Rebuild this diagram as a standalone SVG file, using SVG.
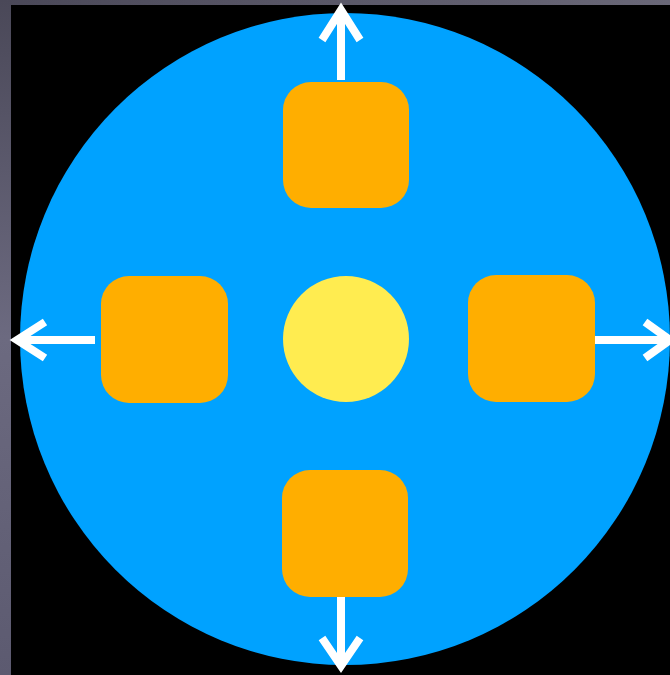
<svg xmlns="http://www.w3.org/2000/svg" width="670" height="675" viewBox="0 0 670 675">
<defs>
<linearGradient id="gl" x1="0" y1="0" x2="0" y2="1"><stop offset="0" stop-color="#4a4858"/><stop offset="0.5" stop-color="#6c6a80"/><stop offset="1" stop-color="#5c5a70"/></linearGradient>
<linearGradient id="gt" x1="0" y1="0" x2="1" y2="0"><stop offset="0" stop-color="#4a4858"/><stop offset="1" stop-color="#6a6878"/></linearGradient>
</defs>
<style>
.box{fill:#FFAE00}
.arr{fill:none;stroke:#FFFFFF;stroke-width:8;stroke-linejoin:miter;stroke-linecap:butt}
</style>
<rect x="0" y="0" width="670" height="675" fill="#000"/>
<rect x="0" y="0" width="670" height="5" fill="url(#gt)"/>
<rect x="0" y="0" width="11" height="675" fill="url(#gl)"/>
<g id="outer"><ellipse cx="345" cy="339" rx="325" ry="326" fill="#00A2FF"/></g>
<g id="connectors">
<path class="arr" d="M341 80V10M322 40L341 10L360 40"/>
<path class="arr" d="M341 597V666M322 638L341 666L360 638"/>
<path class="arr" d="M95 340H17M45 322L17 340L45 358"/>
<path class="arr" d="M595 340H670M645 322L670 340L645 358"/>
</g>
<g id="center"><circle cx="346" cy="339" r="63" fill="#FFEC50"/></g>
<g id="top"><rect class="box" x="283" y="82" width="126" height="126" rx="28"/></g>
<g id="left"><rect class="box" x="101" y="276" width="127" height="127" rx="28"/></g>
<g id="right"><rect class="box" x="468" y="275" width="127" height="127" rx="28"/></g>
<g id="bottom"><rect class="box" x="282" y="470" width="126" height="127" rx="28"/></g>
</svg>
